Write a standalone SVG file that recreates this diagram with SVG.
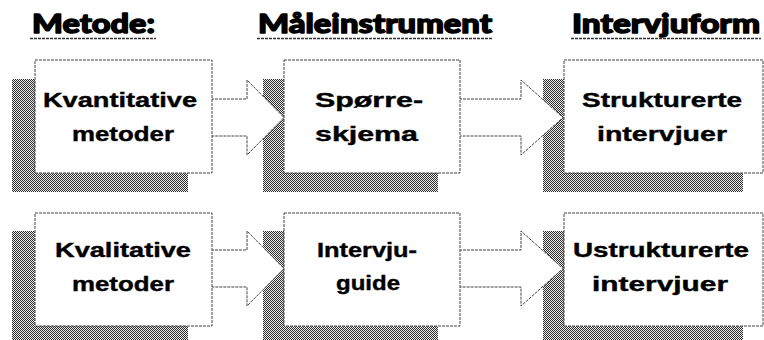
<svg xmlns="http://www.w3.org/2000/svg" width="764" height="340" viewBox="0 0 764 340">
  <defs>
    <pattern id="dither" width="2" height="2" patternUnits="userSpaceOnUse">
      <rect width="2" height="2" fill="#eeeeee"/>
      <rect width="1" height="1" fill="#2a2a2a"/>
      <rect x="1" y="1" width="1" height="1" fill="#2a2a2a"/>
    </pattern>
    <style>
      .shadow { fill: url(#dither); }
      .box { fill: #fff; stroke: #444; stroke-width: 1; stroke-dasharray: 3 1; }
      .arrow { fill: #fff; stroke: #444; stroke-width: 1; stroke-dasharray: 3 1; stroke-linejoin: miter; }
      .lbl { font-family: "Liberation Sans", Arial, sans-serif; font-weight: bold; font-size: 21px; fill: #000; stroke: #000; stroke-width: 0.4; text-anchor: middle; }
      .head { font-family: Lato, "DejaVu Sans", sans-serif; font-weight: 900; font-size: 27px; fill: #000; stroke: #000; stroke-width: 1.4; stroke-linejoin: round; }
      .uline { stroke: #333; stroke-width: 1.5; stroke-dasharray: 3 1; }
    </style>
  </defs>
  <rect width="764" height="340" fill="#fff"/>

  <g id="headings">
    <text class="head" x="32" y="33" textLength="123" lengthAdjust="spacingAndGlyphs">Metode:</text>
    <line class="uline" x1="30" y1="38.5" x2="156" y2="38.5"/>
    <text class="head" x="258" y="33" textLength="234" lengthAdjust="spacingAndGlyphs">Måleinstrument</text>
    <line class="uline" x1="257" y1="38.5" x2="493" y2="38.5"/>
    <text class="head" x="572" y="33" textLength="188" lengthAdjust="spacingAndGlyphs">Intervjuform</text>
    <line class="uline" x1="571" y1="38.5" x2="761" y2="38.5"/>
  </g>

  <g id="shadows">
    <rect class="shadow" x="12" y="79" width="176" height="113"/>
    <rect class="shadow" x="263" y="79" width="175" height="113"/>
    <rect class="shadow" x="543" y="79" width="200" height="113"/>
    <rect class="shadow" x="12" y="231" width="176" height="113"/>
    <rect class="shadow" x="263" y="231" width="175" height="113"/>
    <rect class="shadow" x="543" y="231" width="200" height="113"/>
  </g>

  <g id="connectors">
    <polygon class="arrow" points="211,99 247,99 247,80 284,117.5 247,155 247,136 211,136"/>
    <polygon class="arrow" points="459,99 521,99 521,80 563,117.5 521,155 521,136 459,136"/>
    <polygon class="arrow" points="211,250 247,250 247,231 284,268.5 247,306 247,287 211,287"/>
    <polygon class="arrow" points="459,250 521,250 521,231 563,268.5 521,306 521,287 459,287"/>
  </g>

  <g id="kvantitative">
    <rect class="box" x="35" y="60" width="177" height="113"/>
    <text class="lbl" x="120" y="107" textLength="154" lengthAdjust="spacingAndGlyphs">Kvantitative</text>
    <text class="lbl" x="123" y="141" textLength="102" lengthAdjust="spacingAndGlyphs">metoder</text>
  </g>
  <g id="sporreskjema">
    <rect class="box" x="284" y="60" width="176" height="113"/>
    <text class="lbl" x="369" y="107" textLength="108" lengthAdjust="spacingAndGlyphs">Spørre-</text>
    <text class="lbl" x="366.5" y="141" textLength="103" lengthAdjust="spacingAndGlyphs">skjema</text>
  </g>
  <g id="strukturerte">
    <rect class="box" x="564" y="60" width="199" height="113"/>
    <text class="lbl" x="662" y="107" textLength="160" lengthAdjust="spacingAndGlyphs">Strukturerte</text>
    <text class="lbl" x="662" y="141" textLength="130" lengthAdjust="spacingAndGlyphs">intervjuer</text>
  </g>
  <g id="kvalitative">
    <rect class="box" x="35" y="213" width="177" height="113"/>
    <text class="lbl" x="123" y="257" textLength="136" lengthAdjust="spacingAndGlyphs">Kvalitative</text>
    <text class="lbl" x="123" y="291" textLength="102" lengthAdjust="spacingAndGlyphs">metoder</text>
  </g>
  <g id="intervjuguide">
    <rect class="box" x="284" y="213" width="176" height="113"/>
    <text class="lbl" x="367" y="257" textLength="100" lengthAdjust="spacingAndGlyphs">Intervju-</text>
    <text class="lbl" x="368" y="290" textLength="64" lengthAdjust="spacingAndGlyphs">guide</text>
  </g>
  <g id="ustrukturerte">
    <rect class="box" x="564" y="213" width="199" height="113"/>
    <text class="lbl" x="661" y="257" textLength="176" lengthAdjust="spacingAndGlyphs">Ustrukturerte</text>
    <text class="lbl" x="660" y="291" textLength="136" lengthAdjust="spacingAndGlyphs">intervjuer</text>
  </g>
</svg>
